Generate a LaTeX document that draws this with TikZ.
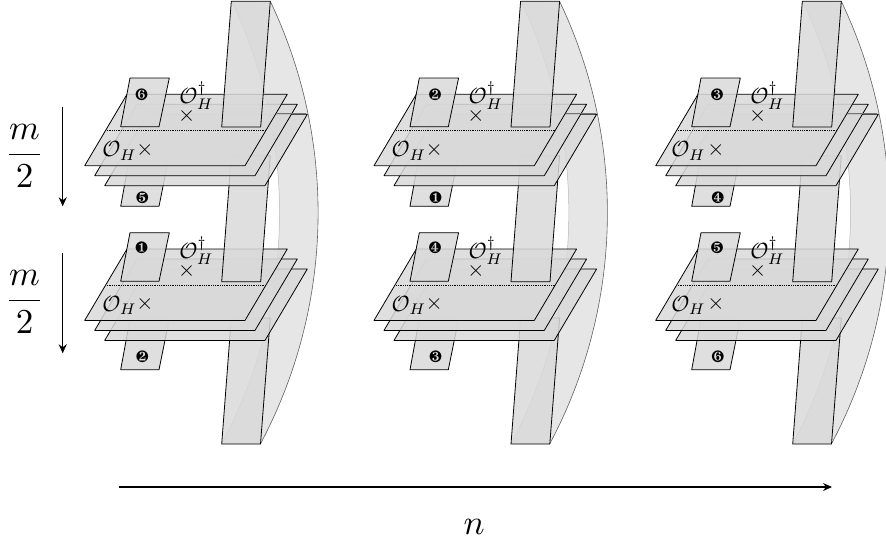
\documentclass[tikz,border=0pt]{standalone}
\usepackage{pifont}
\usetikzlibrary{arrows.meta}
\tikzset{
  sheet/.style={draw=black,line width=0.8pt,line join=round,fill=black!15,fill opacity=0.85},
  band/.style={fill=black!11,fill opacity=0.9},
  bandout/.style={draw=black!62,line width=0.6pt},
  bandin/.style={draw=black!28,line width=0.5pt},
  mathlab/.style={inner sep=0pt,scale=2.2},
  numlab/.style={inner sep=0pt,scale=1.65},
  axis/.style={draw=black,line width=1.1pt,-{Stealth[length=9pt,width=8pt]}},
  biglab/.style={inner sep=0pt,scale=3.5},
}
\newcommand{\plate}{%
  \path[sheet] (84.7,165.7) -- (245,165.7) -- (287.3,94.3) -- (127,94.3) -- cycle;}
\newcommand{\stackplates}{%
  \begin{scope}[shift={(20,20)}]\plate\end{scope}
  \begin{scope}[shift={(10,10)}]\plate\end{scope}
  \plate
  \draw[black,line width=0.8pt,densely dotted] (106.7,130.3) -- (266.7,130.3);
}
\begin{document}
\begin{tikzpicture}[x=1pt,y=-1pt]
\useasboundingbox (0,0) rectangle (886,544);
\foreach \c/\off/\nsh/\osh/\nA/\nB/\nC/\nD in {a/0/0/0/187/186/182/183, b/289.3/4/0/183/182/185/184, c/571/4.5/-2/184/185/186/187}{
\begin{scope}[xshift=\off pt]
  % arc band
  \path[band] (270.3,1.3) arc[start angle=-25.47,end angle=28.07,radius=491.8] -- (221.7,444) arc[start angle=28.07,end angle=-25.47,radius=491.8] -- cycle;
  \draw[bandout] (270.3,1.3) arc[start angle=-25.47,end angle=28.07,radius=491.8];
  \draw[bandin] (221.7,444) arc[start angle=28.07,end angle=-25.47,radius=491.8];
  % bottom strip and rectangle
  \path[sheet] (231.3,318) -- (270.3,318) -- (260.5,444) -- (221.7,444) -- cycle;
  \path[sheet] (130,319) -- (169.3,319) -- (159,369.7) -- (120.7,369.7) -- cycle;
  % lower stack
  \begin{scope}[yshift=-154.7pt]\stackplates\end{scope}
  % middle strip and rectangles
  \path[sheet] (231.3,155.7) -- (270.3,155.7) -- (260.7,281.7) -- (221.7,281.7) -- cycle;
  \path[sheet] (130,232.7) -- (169.3,232.7) -- (159,281.3) -- (120.7,281.3) -- cycle;
  \path[sheet] (130,155) -- (169.3,155) -- (159,206.3) -- (120.7,206.3) -- cycle;
  % upper stack
  \stackplates
  \draw[black!55,line width=1.3pt] (277,113.8) -- (306.4,113.8);
  % top strip and rectangle
  \path[sheet] (231.3,1.3) -- (270.3,1.3) -- (260.7,127) -- (221.7,127) -- cycle;
  \path[sheet] (130,78) -- (169.3,78) -- (159,126.7) -- (120.7,126.7) -- cycle;
  % labels
  \node[mathlab,anchor=west] (ol-\c-1) at (102+\osh,151) {$\mathcal{O}_H$};
  \node[mathlab] (x-\c-1) at (145,149.7) {$\times$};
  \node[mathlab,anchor=west] (ou-\c-1) at (179,96) {$\mathcal{O}_H^\dagger$};
  \node[mathlab] (y-\c-1) at (186.7,116) {$\times$};
  \node[mathlab,anchor=west] (ol-\c-2) at (102+\osh,305.7) {$\mathcal{O}_H$};
  \node[mathlab] (x-\c-2) at (145,304.4) {$\times$};
  \node[mathlab,anchor=west] (ou-\c-2) at (179,250.7) {$\mathcal{O}_H^\dagger$};
  \node[mathlab] (y-\c-2) at (186.7,270.7) {$\times$};
  \node[numlab] (n-\c-1) at (141.7+\nsh,95) {\ding{\nA}};
  \node[numlab] (n-\c-2) at (142.3+\nsh,197.3) {\ding{\nB}};
  \node[numlab] (n-\c-3) at (141.7+\nsh,247.3) {\ding{\nC}};
  \node[numlab] (n-\c-4) at (142.3+\nsh,356.7) {\ding{\nD}};
\end{scope}
}
\coordinate (m1s) at (62.7,106.7); \coordinate (m1e) at (62.7,206.3);
\coordinate (m2s) at (62.7,253.3); \coordinate (m2e) at (62.7,353.3);
\coordinate (ns) at (118.5,487); \coordinate (ne) at (832,487);
\draw[axis] (m1s) -- (m1e);
\draw[axis] (m2s) -- (m2e);
\draw[axis] (ns) -- (ne);
\node[biglab] (mfrac1) at (24.5,155.7) {$\displaystyle\frac{m}{2}$};
\node[biglab] (mfrac2) at (24.5,301.7) {$\displaystyle\frac{m}{2}$};
\node[biglab] (nlab) at (474,527) {$n$};
\end{tikzpicture}
\end{document}
